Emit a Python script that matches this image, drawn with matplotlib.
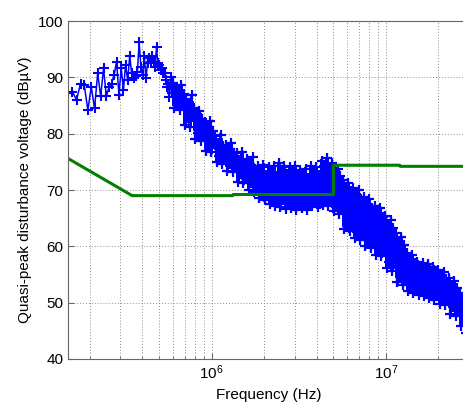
import numpy as np
import matplotlib.pyplot as plt

plt.rcParams['font.family'] = ['Liberation Sans', 'DejaVu Sans']

# Measured quasi-peak voltage, low band (9 kHz steps from 150 kHz)
low_freq = np.arange(150e3, 592e3, 9e3)
low_level = [87.3, 87.4, 86.0, 88.9, 88.6, 84.2, 88.3, 84.5, 90.7, 86.6,
             91.6, 86.6, 88.3, 88.9, 90.5, 92.8, 86.9, 91.6, 87.8, 92.2,
             89.5, 93.8, 90.7, 89.8, 90.2, 91.0, 96.2, 91.9, 90.4, 93.7,
             89.8, 92.5, 93.4, 92.8, 93.7, 92.8, 91.9, 95.4, 92.5, 92.2,
             91.3, 91.6, 90.7, 90.7, 89.5, 88.3, 88.9, 86.5, 90.1, 87.2]

# Measured quasi-peak voltage, 600 kHz .. 30 MHz (dense sweep)
high_level = [
    89.0, 84.5, 88.2, 85.6, 87.5, 84.2, 88.6, 85.0,
    87.0, 81.5, 86.2, 82.8, 85.4, 81.2, 86.8, 83.0,
    84.6, 79.0, 83.5, 80.2, 84.0, 78.7, 82.6, 79.8,
    82.0, 76.9, 81.2, 77.8, 82.3, 76.7, 80.5, 78.2,
    79.6, 75.0, 78.4, 76.0, 79.8, 74.7, 77.8, 75.6,
    78.0, 73.4, 77.2, 74.6, 78.3, 73.2, 76.5, 74.0,
    76.6, 71.5, 75.4, 72.8, 76.8, 71.2, 74.6, 72.2,
    75.5, 70.0, 74.6, 71.2, 75.8, 69.7, 73.8, 70.6,
    74.3, 68.5, 73.2, 69.6, 74.5, 68.2, 72.6, 69.2,
    74.0, 67.5, 73.0, 68.6, 74.3, 67.2, 72.4, 68.0,
    74.8, 67.0, 73.4, 68.2, 74.2, 66.7, 72.8, 67.8,
    74.0, 66.8, 73.2, 67.9, 74.3, 66.5, 72.5, 67.4,
    73.6, 66.8, 72.8, 67.6, 73.8, 66.5, 72.2, 67.2,
    74.3, 67.2, 73.1, 68.0, 74.0, 66.9, 72.6, 67.6,
    75.2, 67.4, 74.2, 68.4, 75.6, 67.2, 73.8, 68.0,
    74.8, 66.2, 73.6, 67.0, 73.8, 65.7, 72.4, 66.4,
    71.8, 63.0, 70.6, 64.2, 71.2, 62.7, 69.8, 63.6,
    70.3, 61.5, 69.2, 62.6, 70.0, 61.2, 68.4, 62.0,
    68.8, 60.0, 67.6, 61.2, 68.4, 59.7, 66.8, 60.6,
    67.1, 58.5, 66.0, 59.6, 66.8, 58.2, 65.2, 59.0,
    65.3, 56.2, 64.0, 57.2, 64.6, 55.7, 63.2, 56.8,
    62.3, 53.6, 61.0, 54.6, 61.6, 53.2, 60.2, 54.2,
    58.8, 52.0, 57.8, 53.0, 58.4, 51.7, 57.0, 52.6,
    57.3, 51.4, 56.4, 52.4, 57.0, 51.2, 55.8, 52.0,
    56.8, 50.8, 55.8, 51.8, 56.4, 50.5, 55.2, 51.4,
    55.8, 49.8, 54.8, 50.8, 55.4, 49.5, 54.2, 50.4,
    54.3, 48.0, 53.2, 49.2, 53.8, 47.7, 52.6, 48.6,
    51.8, 45.8, 50.6, 46.8, 50.8, 44.7, 49.8, 45.2]
high_freq = np.geomspace(6e5, 3e7, len(high_level))

# Limit line
limit_freq = [150e3, 350e3, 1.32e6, 1.33e6, 5e6, 5e6, 12e6, 12.1e6, 30e6]
limit_level = [75.6, 69.0, 69.0, 69.2, 69.2, 74.4, 74.4, 74.2, 74.2]

fig = plt.figure(figsize=(4.63, 4.05), dpi=100)
ax = fig.add_axes([68 / 463, 1 - 359 / 405, (469 - 68) / 463, (359 - 21) / 405])

# sparse part drawn smooth, dense part without antialiasing (solid band)
ax.semilogx(np.append(low_freq, high_freq[0]), np.append(low_level, high_level[0]),
            '-+', color=(0, 0, 1), linewidth=1.1, markersize=7,
            markeredgewidth=1.5)
ax.semilogx(high_freq, high_level, '-+', color=(0, 0, 1), linewidth=1.6,
            markersize=7, markeredgewidth=1.6, antialiased=False)
ax.semilogx(limit_freq, limit_level, '-', color=(0, 0.5, 0), linewidth=2.2)

ax.set_xlim(1.5e5, 3e7)
ax.set_ylim(40, 100)
ax.set_yticks([40, 50, 60, 70, 80, 90, 100])

ax.grid(True, which='major', linestyle=(0, (1, 2)), color='0.55', linewidth=0.7)
ax.grid(True, which='minor', axis='x', linestyle=(0, (1, 2)), color='0.55',
        linewidth=0.7)
ax.tick_params(which='both', direction='in', labelsize=11, color='0.4')
ax.tick_params(which='major', length=4)
ax.tick_params(which='minor', length=2)
for s in ax.spines.values():
    s.set_color('0.4')

ax.set_xlabel('Frequency (Hz)', fontsize=11)
ax.set_ylabel('Quasi-peak disturbance voltage (dB\u00b5V)', fontsize=11)

fig.savefig('out.png', dpi=100)
